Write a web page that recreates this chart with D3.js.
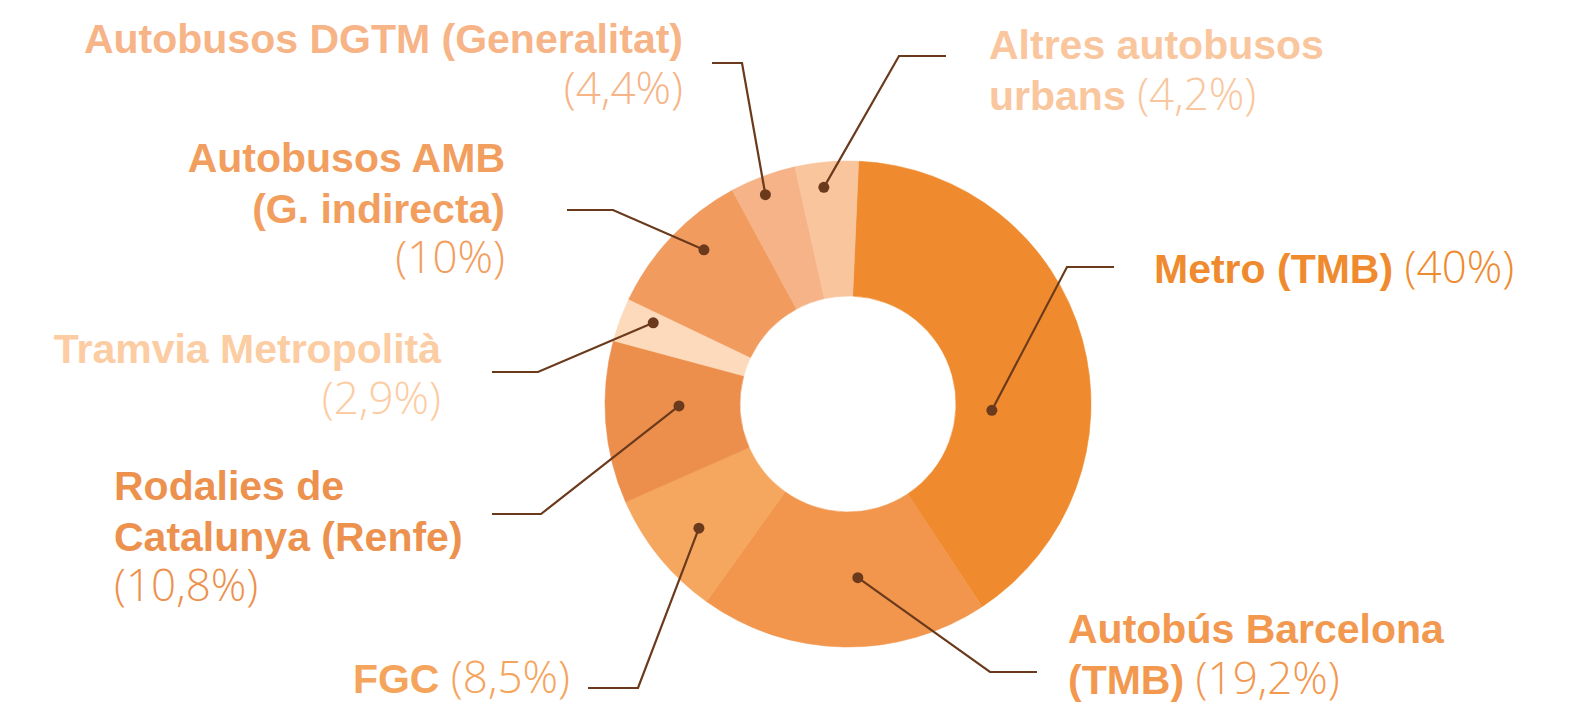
<!DOCTYPE html>
<html>
<head>
<meta charset="utf-8">
<script src="https://cdn.jsdelivr.net/npm/d3@7"></script>
<style>
  body { margin: 0; background: #fff; }
  svg { display: block; }
</style>
</head>
<body>
<svg id="chart"></svg>
<script>
// data, clockwise from the top
var categories = ["Metro (TMB)", "Autobús Barcelona (TMB)", "FGC", "Rodalies de Catalunya (Renfe)",
                  "Tramvia Metropolità", "Autobusos AMB (G. indirecta)", "Autobusos DGTM (Generalitat)",
                  "Altres autobusos urbans"];
var shares = [40, 19.2, 8.5, 10.8, 2.9, 10, 4.4, 4.2];
var shareLabels = ["(40%)", "(19,2%)", "(8,5%)", "(10,8%)", "(2,9%)", "(10%)", "(4,4%)", "(4,2%)"];

// how each label is broken in lines ("%" = the share label)
var labelLines = [
  [["Metro (TMB)", "%"]],
  [["Autobús Barcelona"], ["(TMB)", "%"]],
  [["FGC", "%"]],
  [["Rodalies de"], ["Catalunya (Renfe)"], ["%"]],
  [["Tramvia Metropolità"], ["%"]],
  [["Autobusos AMB"], ["(G. indirecta)"], ["%"]],
  [["Autobusos DGTM (Generalitat)"], ["%"]],
  [["Altres autobusos"], ["urbans", "%"]]
];

var sliceColors = ["#ef8b2e", "#f2964d", "#f5a760", "#ec8f4d", "#fddabb", "#f29b5e", "#f5b387", "#f8c59d"];
var labelColors = ["#ef8b2e", "#f2984f", "#f5a45c", "#ed914e", "#fccca2", "#f29e5e", "#f6b487", "#f9c69e"];

var dims = { width: 1583, height: 705, cx: 848, cy: 404, outer: 243, inner: 108, lineH: 50.5 };

// label placement + leader line (start, elbow, dot radius / angle shift in degrees)
var layout = [
  { x: 1154, y: 283, anchor: "start", start: [1114, 267], elbow: [1067, 267], r: 144, shift: 18 },
  { x: 1068, y: 643, anchor: "start", start: [1037, 672], elbow: [990, 672], r: 174, shift: -4.3 },
  { x: 570,  y: 693, anchor: "end",   start: [588, 688],  elbow: [638, 688], r: 194, shift: -0.7 },
  { x: 114,  y: 500, anchor: "start", start: [492, 514],  elbow: [541, 514], r: 169, shift: 3.7 },
  { x: 441,  y: 363, anchor: "end",   start: [492, 372],  elbow: [538, 372], r: 211, shift: 2.3 },
  { x: 505,  y: 172, anchor: "end",   start: [567, 210],  elbow: [613, 210], r: 211, shift: 3.4 },
  { x: 683,  y: 53,  anchor: "end",   start: [712, 63],   elbow: [742, 63],  r: 225, shift: -1 },
  { x: 989,  y: 59,  anchor: "start", start: [946, 56],   elbow: [899, 56],  r: 218, shift: -1.3 }
];

var rad = Math.PI / 180;
var startA = 2.5 * rad;

var svg = d3.select("#chart")
    .attr("width", dims.width)
    .attr("height", dims.height);

var pie = d3.pie()
    .sort(null)
    .value(d => d)
    .startAngle(startA)
    .endAngle(startA + 2 * Math.PI);

var arcs = pie(shares);

var arc = d3.arc()
    .innerRadius(dims.inner)
    .outerRadius(dims.outer);

var g = svg.append("g")
    .attr("transform", `translate(${dims.cx},${dims.cy})`);

g.selectAll("path.slice")
    .data(arcs)
    .enter()
    .append("path")
    .attr("class", "slice")
    .attr("d", arc)
    .attr("fill", (d, i) => sliceColors[i])
    .attr("stroke", (d, i) => sliceColors[i])
    .attr("stroke-width", 0.6);

// leader lines
function dotPos(d, i) {
  var a = (d.startAngle + d.endAngle) / 2 + layout[i].shift * rad;
  return [dims.cx + layout[i].r * Math.sin(a), dims.cy - layout[i].r * Math.cos(a)];
}

svg.selectAll("path.leader")
    .data(arcs)
    .enter()
    .append("path")
    .attr("class", "leader")
    .attr("d", (d, i) => d3.line()([layout[i].start, layout[i].elbow, dotPos(d, i)]))
    .attr("fill", "none")
    .attr("stroke", "#6b3a1c")
    .attr("stroke-width", 2.2);

svg.selectAll("circle.dot")
    .data(arcs)
    .enter()
    .append("circle")
    .attr("class", "dot")
    .attr("cx", (d, i) => dotPos(d, i)[0])
    .attr("cy", (d, i) => dotPos(d, i)[1])
    .attr("r", 5.5)
    .attr("fill", "#6b3a1c");

// labels
categories.forEach(function(c, i) {
  var L = layout[i];
  labelLines[i].forEach(function(line, j) {
    var t = svg.append("text")
        .attr("x", L.x)
        .attr("y", L.y + j * dims.lineH)
        .attr("text-anchor", L.anchor)
        .attr("fill", labelColors[i]);
    line.forEach(function(seg, k) {
      if (seg === "%") {
        t.append("tspan")
            .attr("font-family", "'Open Sans', Lato, sans-serif")
            .attr("font-weight", 300)
            .style("font-size", "44px")
            .text((k > 0 ? " " : "") + shareLabels[i]);
      } else {
        t.append("tspan")
            .attr("font-family", "'Liberation Sans', Arial, sans-serif")
            .attr("font-weight", 700)
            .style("font-size", "41px")
            .text(seg);
      }
    });
  });
});
</script>
</body>
</html>
